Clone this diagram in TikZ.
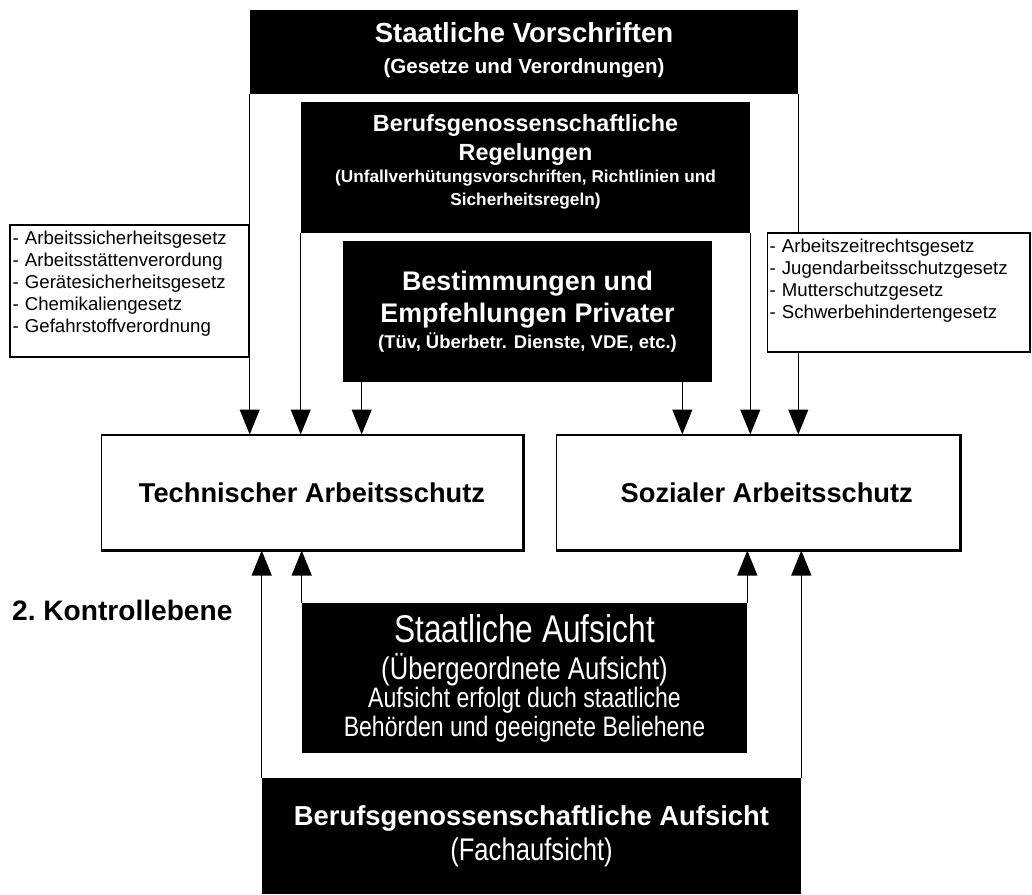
\documentclass[tikz,border=0pt]{standalone}
\usepackage{fontspec}
\setmainfont{Liberation Sans}
\newfontfamily\schmal{Liberation Sans}[FakeStretch=0.82]
\usetikzlibrary{arrows.meta}

\begin{document}
\begin{tikzpicture}[x=0.02cm,y=-0.02cm,
  blackbox/.style={fill=black,text=white,align=center,inner sep=0pt},
  schutzbox/.style={draw,line width=0.6pt,inner sep=0pt,minimum height=2.3cm,
    font=\bfseries\fontsize{15.5}{18}\selectfont},
  listbox/.style={draw,fill=white,line width=0.6pt,align=left,inner xsep=0.05cm,
    font=\fontsize{10.6}{12.5}\selectfont},
  pfeil/.style={line width=0.6pt,-{Triangle[width=0.4cm,length=0.5cm]}}]
  \useasboundingbox (0,0) rectangle (1032,894);
  \node[blackbox,minimum width=10.96cm,minimum height=1.68cm,
    font=\bfseries\fontsize{11.7}{17.6}\selectfont] (vorschr) at (524,52)
    {\fontsize{15.7}{18}\selectfont Staatliche Vorschriften\\
     \fontsize{11.7}{14}\selectfont (Gesetze und Verordnungen)\rule[-0.15cm]{0pt}{0pt}};
  \node[blackbox,minimum width=8.98cm,minimum height=2.62cm,
    font=\bfseries\fontsize{9.8}{12.6}\selectfont] (regeln) at (525.5,167.5)
    {\fontsize{13.3}{16}\selectfont Berufsgenossenschaftliche\\[3.8pt]
     \fontsize{13.3}{15}\selectfont Regelungen\\
     (Unfallverhütungsvorschriften, Richtlinien und\\
     Sicherheitsregeln)\rule[-0.3cm]{0pt}{0pt}};
  \node[blackbox,minimum width=7.38cm,minimum height=2.82cm,
    font=\bfseries\fontsize{10.5}{14.8}\selectfont] (privat) at (527.5,311.5)
    {\fontsize{15.3}{18.5}\selectfont Bestimmungen und\\[3.2pt]
     \fontsize{15.3}{16}\selectfont Empfehlungen Privater\\
     (Tüv, Überbetr. Dienste, VDE, etc.)};
  \node[schutzbox,minimum width=8.44cm] (tech) at (312,492.5) {Technischer Arbeitsschutz\hspace{0.18cm}};
  \node[schutzbox,minimum width=8.08cm] (sozial) at (758,492.5) {\hspace{0.35cm}Sozialer Arbeitsschutz};
  \draw[line width=1.6pt] (tech.north east) -- (tech.south east) -- (tech.south west);
  \draw[line width=1.6pt] (sozial.north east) -- (sozial.south east) -- (sozial.south west);
  \node[blackbox,minimum width=8.9cm,minimum height=3cm,
    font=\schmal\fontsize{16}{16.2}\selectfont] (staatauf) at (524.5,678)
    {\fontsize{22}{25}\selectfont Staatliche Aufsicht\\[4.8pt]
     \fontsize{17.8}{20}\selectfont (Übergeordnete Aufsicht)\\
     Aufsicht erfolgt duch staatliche\\
     Behörden und geeignete Beliehene};
  \node[blackbox,minimum width=10.78cm,minimum height=2.32cm,
    font=\bfseries\fontsize{15.6}{19.8}\selectfont] (fachauf) at (531.5,836)
    {Berufsgenossenschaftliche Aufsicht\\
     \schmal\mdseries\fontsize{17.8}{20}\selectfont (Fachaufsicht)};
  \node[anchor=west,font=\bfseries\fontsize{16}{18}\selectfont] (ebene) at (6,610) {2.\ Kontrollebene};
  \coordinate (privL) at ([xshift=0.38cm]privat.south west);
  \coordinate (privR) at ([xshift=-0.6cm]privat.south east);
  \draw[pfeil] (vorschr.south west) -- (vorschr.south west |- tech.north);
  \draw[pfeil] (regeln.south west) -- (regeln.south west |- tech.north);
  \draw[pfeil] (privL) -- (privL |- tech.north);
  \draw[pfeil] (privR) -- (privR |- sozial.north);
  \draw[pfeil] (regeln.south east) -- (regeln.south east |- sozial.north);
  \draw[pfeil] (vorschr.south east) -- (vorschr.south east |- sozial.north);
  \draw[pfeil] (fachauf.north west) -- (fachauf.north west |- tech.south);
  \draw[pfeil] (staatauf.north west) -- (staatauf.north west |- tech.south);
  \draw[pfeil] (staatauf.north east) -- (staatauf.north east |- sozial.south);
  \draw[pfeil] (fachauf.north east) -- (fachauf.north east |- sozial.south);
  \node[listbox,text width=4.68cm,minimum height=2.64cm] (gesetzeT) at (129.5,291)
    {- Arbeitssicherheitsgesetz\\- Arbeitsstättenverordung\\- Gerätesicherheitsgesetz\\
     - Chemikaliengesetz\\- Gefahrstoffverordnung\rule[-0.36cm]{0pt}{0pt}};
  \node[listbox,text width=5.16cm,minimum height=2.38cm] (gesetzeS) at (898.5,292.5)
    {- Arbeitszeitrechtsgesetz\\- Jugendarbeitsschutzgesetz\\- Mutterschutzgesetz\\
     - Schwerbehindertengesetz\rule[-0.54cm]{0pt}{0pt}};
\end{tikzpicture}
\end{document}
